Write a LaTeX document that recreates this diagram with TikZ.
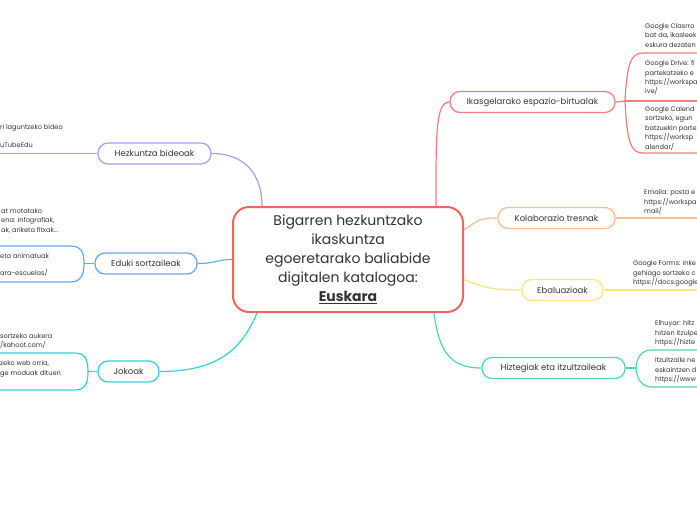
\documentclass[tikz,border=0pt]{standalone}
\usepackage{fontspec}
\setmainfont{Poppins}
\definecolor{cred}{HTML}{F26464}
\definecolor{csalmon}{HTML}{F87A7A}
\definecolor{corange}{HTML}{FDBB8F}
\definecolor{cyellow}{HTML}{FBE47E}
\definecolor{cteal}{HTML}{4FD9A8}
\definecolor{ccyan}{HTML}{2CD3DE}
\definecolor{cblue}{HTML}{64A8F5}
\definecolor{cpurple}{HTML}{A59DF7}
\definecolor{ctext}{HTML}{333333}
\begin{document}
\begin{tikzpicture}[x=1pt,y=-1pt,
  branch/.style={draw, rounded corners=10pt, line width=1.2pt, minimum height=21pt, inner sep=0pt, font=\fontsize{8.5}{10}\selectfont, text=ctext, fill=white},
  leaf/.style={inner sep=0pt, align=left, font=\fontsize{6.6}{9.4}\selectfont, text=ctext, anchor=north west},
  conn/.style={line width=1.2pt}]
\useasboundingbox (0,0) rectangle (697,520);
\clip (0,0) rectangle (697,520);

% central
\node[draw=cred, line width=2pt, rounded corners=16pt, minimum width=230pt, minimum height=105pt, align=center, font=\fontsize{14}{19}\selectfont, text=ctext, fill=white] (central) at (348,259.5) {Bigarren hezkuntzako\\ikaskuntza\\egoeretarako baliabide\\digitalen katalogoa:\\\underline{\textbf{Euskara}}};

% branches
\node[branch, draw=csalmon, minimum width=165pt] (ikas) at (532.5,102) {Ikasgelarako espazio-birtualak};
\node[branch, draw=corange, minimum width=117pt] (kolab) at (556.5,218) {Kolaborazio tresnak};
\node[branch, draw=cyellow, minimum width=81pt] (ebal) at (562.5,290) {Ebaluazioak};
\node[branch, draw=cteal, minimum width=143pt] (hizt) at (553.5,368) {Hiztegiak eta itzultzaileak};
\node[branch, draw=cpurple, minimum width=113pt] (bideo) at (154.5,153.5) {Hezkuntza bideoak};
\node[branch, draw=cblue, minimum width=102pt] (eduki) at (146,263.5) {Eduki sortzaileak};
\node[branch, draw=ccyan, minimum width=61pt] (joko) at (128.5,371.5) {Jokoak};

% central connectors
\draw[conn, csalmon] ([xshift=-28pt]central.north east) .. controls +(0,-70) and +(-14,0) .. (ikas.west);
\draw[conn, corange] ([yshift=29.5pt]central.east) .. controls +(15,-10) and +(-18,0) .. (kolab.west);
\draw[conn, cyellow] ([yshift=-20pt]central.east) .. controls +(20,8) and +(-30,0) .. (ebal.west);
\draw[conn, cteal] ([xshift=-30pt]central.south east) .. controls +(5,40) and +(-30,0) .. (hizt.west);
\draw[conn, cpurple] (bideo.east) .. controls +(35,0) and +(0,-30) .. ([xshift=30pt]central.north west);
\draw[conn, cblue] (eduki.east) .. controls +(18,0) and +(-15,0) .. (central.west);
\draw[conn, ccyan] (joko.east) .. controls +(60,0) and +(-15,35) .. ([xshift=25pt]central.south west);

% right leaves
\node[leaf] (gclass) at (645,23.5) {Google Clasrro\\bat da, ikasleek\\eskura dezaten};
\node[leaf] (gdrive) at (645,60.5) {Google Drive: fi\\partekatzeko e\\https://workspa\\ive/};
\node[leaf] (gcal) at (645,106.5) {Google Calend\\sortzeko, egun\\batzuekin parte\\https://worksp\\alendar/};
\node[leaf] (emaila) at (644,189.5) {Emaila: posta e\\https://workspa\\mail/};
\node[leaf] (gforms) at (633,260.5) {Google Forms: inke\\gehiago sortzeko c\\https://docs.google};
\node[leaf] (elhuyar) at (655,320.5) {Elhuyar: hitz\\hitzen itzulpe\\https://hizte};
\node[leaf] (itzul) at (655,357.5) {Itzultzaile ne\\eskaintzen d\\https://www};

\coordinate (jIk) at (625,101);
\coordinate (jHz) at (636,368);
\draw[conn, csalmon] (ikas.east) -- (jIk);
\draw[conn, csalmon] (jIk) .. controls +(2,-38) and +(-12,0) .. (643,53) -- ++(70,0);
\draw[conn, csalmon] (jIk) -- ++(90,0);
\draw[conn, csalmon] (jIk) .. controls +(2,42) and +(-12,0) .. (643,153) -- ++(70,0);
\draw[conn, corange] (kolab.east) -- ++(100,0);
\draw[conn, cyellow] (ebal.east) -- ++(110,0);
\draw[conn, cteal] (hizt.east) -- (jHz);
\draw[conn, cteal] (jHz) .. controls +(1,-14) and +(-8,0) .. (652,350) -- ++(60,0);
\draw[conn, cteal] (jHz) .. controls +(1,14) and +(-8,0) .. (652,387) -- ++(60,0);

% left leaves
\node[leaf] (lbideo) at (0,124.5) {ri laguntzeko bideo\\[8.6pt]uTubeEdu};
\node[leaf] (led1) at (1,208.5) {at motatako\\ena: infografiak,\\ak, ariketa fitxak...};
\node[leaf] (led2) at (0,253.5) {eta animatuak\\[7.6pt]ara-escuelas/};
\node[leaf] (ljk1) at (0,333.5) {sortzeko aukera\\/kahoot.com/};
\node[leaf] (ljk2) at (0,360.5) {zeko web orria,\\ge moduak dituen};

\coordinate (jEd) at (84,263.5);
\coordinate (jJk) at (88,371.5);
\draw[conn, cpurple] (bideo.west) -- ++(-110,0);
\draw[conn, cblue] (eduki.west) -- (jEd);
\draw[conn, cblue] (jEd) .. controls +(0,-13) and +(10,0) .. (70,246) -- ++(-80,0);
\draw[conn, cblue] (jEd) .. controls +(0,13) and +(10,0) .. (70,282) -- ++(-80,0);
\draw[conn, ccyan] (joko.west) -- (jJk);
\draw[conn, ccyan] (jJk) .. controls +(0,-14) and +(10,0) .. (74,353) -- ++(-80,0);
\draw[conn, ccyan] (jJk) .. controls +(0,14) and +(10,0) .. (74,390) -- ++(-80,0);
\end{tikzpicture}
\end{document}
